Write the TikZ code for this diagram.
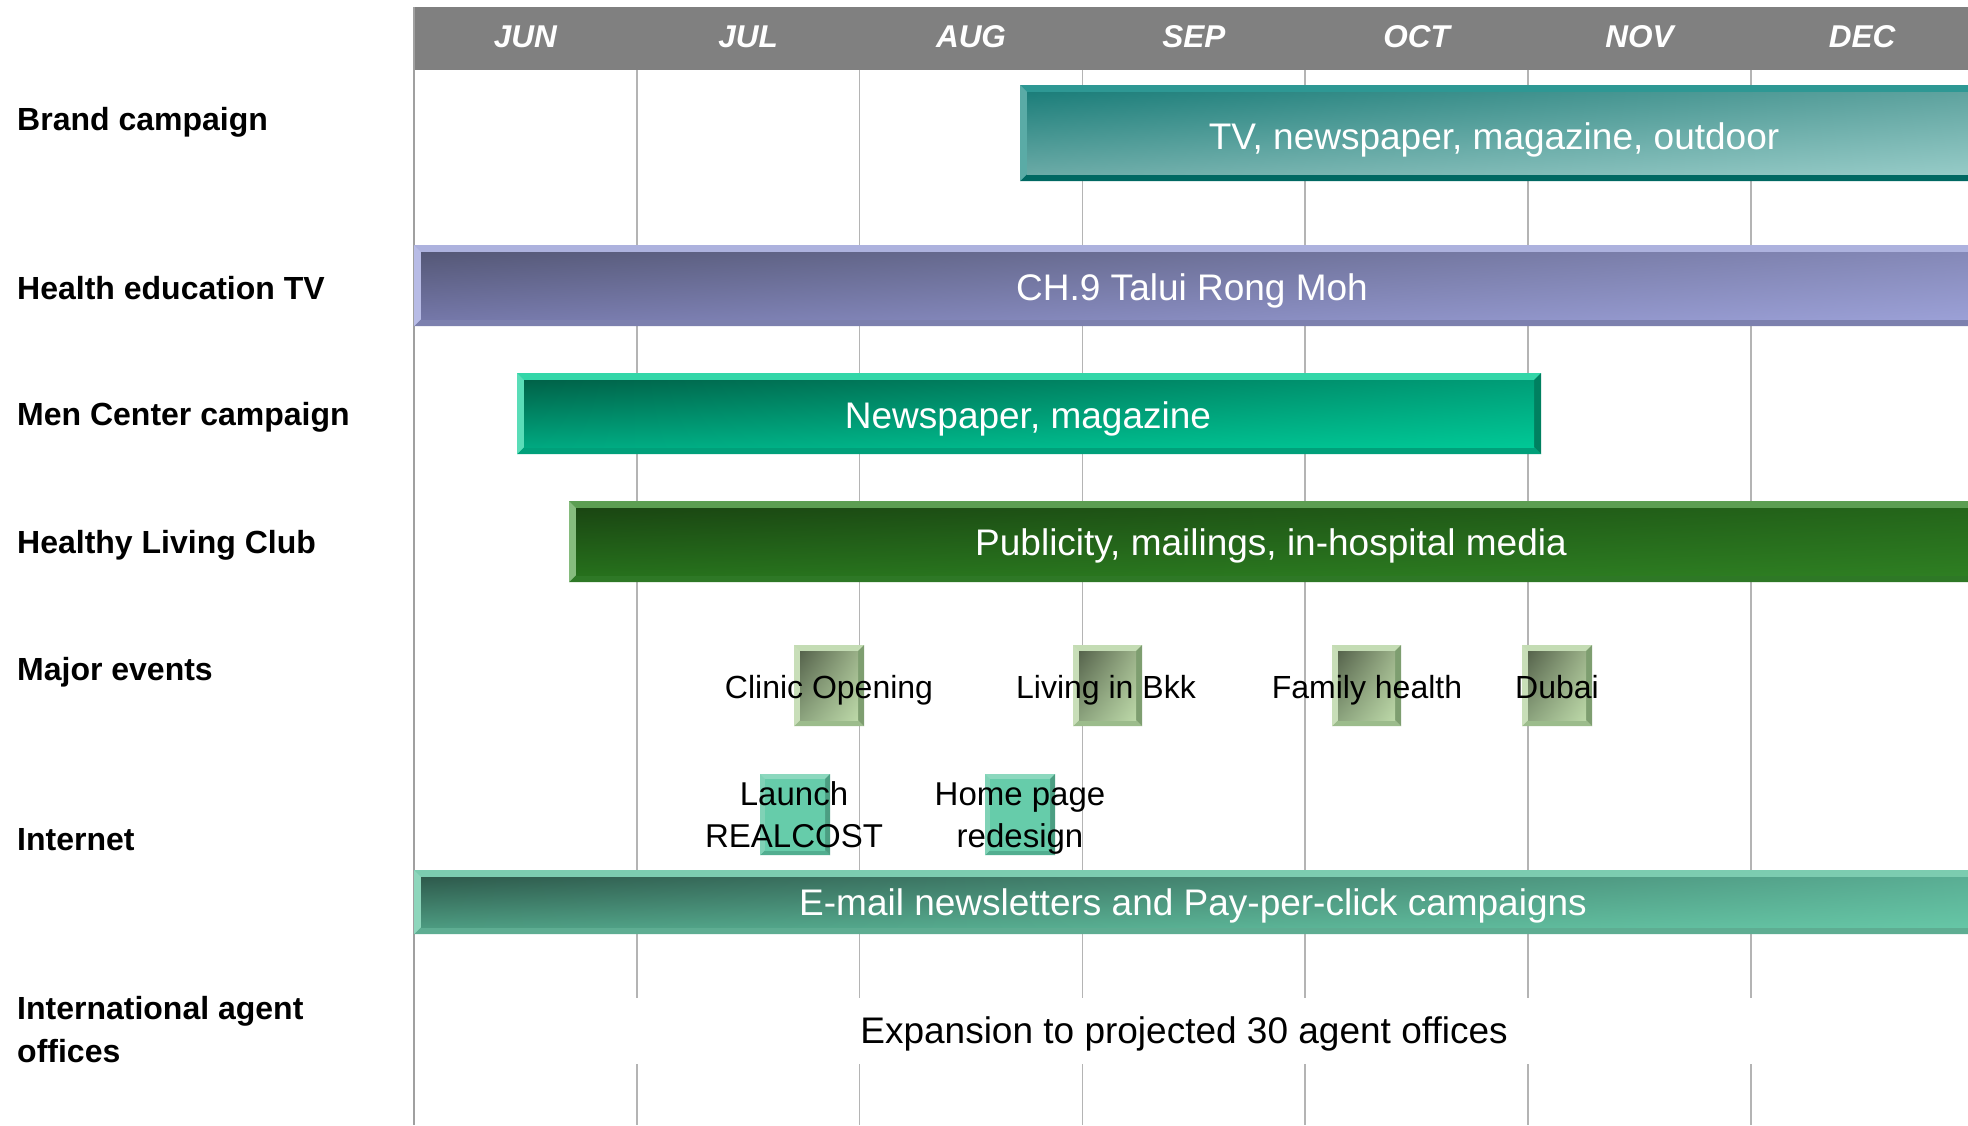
\documentclass[tikz,border=0pt]{standalone}
\usepackage{fontspec}
\setmainfont{Liberation Sans}
\usetikzlibrary{shadings}
\definecolor{hdrgray}{HTML}{808080}
\definecolor{gridgray}{HTML}{B4B4B4}
\definecolor{bordergray}{HTML}{A0A0A0}
% brand campaign bar
\definecolor{brT}{HTML}{2E9894}\definecolor{brL}{HTML}{5AABA6}\definecolor{brB}{HTML}{006862}\definecolor{brR}{HTML}{006862}
\definecolor{brUL}{HTML}{1C7E7A}\definecolor{brUR}{HTML}{5FA39F}\definecolor{brLL}{HTML}{6AAAA6}\definecolor{brLR}{HTML}{96CBC7}
% health TV bar
\definecolor{tvT}{HTML}{ADB2DE}\definecolor{tvL}{HTML}{B8BCE6}\definecolor{tvB}{HTML}{7C80AE}\definecolor{tvR}{HTML}{7C80AE}
\definecolor{tvUL}{HTML}{555877}\definecolor{tvUR}{HTML}{8589B8}\definecolor{tvLL}{HTML}{7477A8}\definecolor{tvLR}{HTML}{9BA0D6}
% men center bar
\definecolor{mcT}{HTML}{33D6A8}\definecolor{mcL}{HTML}{5ADDB8}\definecolor{mcB}{HTML}{00A07A}\definecolor{mcR}{HTML}{008060}
\definecolor{mcUL}{HTML}{006248}\definecolor{mcUR}{HTML}{009E78}\definecolor{mcLL}{HTML}{00A880}\definecolor{mcLR}{HTML}{00C896}
% healthy living bar
\definecolor{hlT}{HTML}{5C9E52}\definecolor{hlL}{HTML}{86BC7E}\definecolor{hlB}{HTML}{2E7826}\definecolor{hlR}{HTML}{2E7826}
\definecolor{hlUL}{HTML}{1A4612}\definecolor{hlUR}{HTML}{24661A}\definecolor{hlLL}{HTML}{26701C}\definecolor{hlLR}{HTML}{2E7E22}
% event boxes
\definecolor{evT}{HTML}{C4DCB4}\definecolor{evL}{HTML}{C8DEB8}\definecolor{evB}{HTML}{9CBC8C}\definecolor{evR}{HTML}{7E9E70}
\definecolor{evUL}{HTML}{56634C}\definecolor{evUR}{HTML}{9AB088}\definecolor{evLL}{HTML}{8CA47E}\definecolor{evLR}{HTML}{BCD8A8}
% internet boxes
\definecolor{inT}{HTML}{8CD8BE}\definecolor{inL}{HTML}{80D2B6}\definecolor{inB}{HTML}{52AE90}\definecolor{inR}{HTML}{4C9E82}
\definecolor{inUL}{HTML}{66CCAA}\definecolor{inUR}{HTML}{66CCAA}\definecolor{inLL}{HTML}{66CCAA}\definecolor{inLR}{HTML}{66CCAA}
% e-mail bar
\definecolor{emT}{HTML}{7CCCB0}\definecolor{emL}{HTML}{8ED6BC}\definecolor{emB}{HTML}{5EAD92}\definecolor{emR}{HTML}{5EAD92}
\definecolor{emUL}{HTML}{2E5A4C}\definecolor{emUR}{HTML}{5AAE94}\definecolor{emLL}{HTML}{4C9A80}\definecolor{emLR}{HTML}{66C6A6}

\newcommand{\bevbox}[6]{%
  \fill[#5T] (#1,#2) rectangle (#3,#4);
  \fill[#5B] (#1,#4) -- ({#1+#6},{#4-#6}) -- ({#3-#6},{#4-#6}) -- (#3,#4) -- cycle;
  \fill[#5L] (#1,#2) -- ({#1+#6},{#2+#6}) -- ({#1+#6},{#4-#6}) -- (#1,#4) -- cycle;
  \fill[#5R] (#3,#2) -- ({#3-#6},{#2+#6}) -- ({#3-#6},{#4-#6}) -- (#3,#4) -- cycle;
  \shade[upper left=#5UL, upper right=#5UR, lower left=#5LL, lower right=#5LR]
    ({#1+#6},{#2+#6}) rectangle ({#3-#6},{#4-#6});
}

\begin{document}
\begin{tikzpicture}[x=1pt,y=-1pt,
  lbl/.style={anchor=base west, inner sep=0pt, font=\fontsize{32}{43}\selectfont\bfseries},
  month/.style={anchor=base, inner sep=0pt, text=white, font=\fontsize{31.5}{37}\selectfont\bfseries\itshape},
  bartxt/.style={anchor=base, inner sep=0pt, text=white, font=\fontsize{37}{44}\selectfont},
  evtxt/.style={anchor=base, inner sep=0pt, text=black, font=\fontsize{32}{43}\selectfont},
  intxt/.style={anchor=base, inner sep=0pt, text=black, font=\fontsize{33}{43}\selectfont},
  gridline/.style={draw=gridgray, line width=1.5pt}]
\useasboundingbox (0,0) rectangle (1968,1125);
\fill[white] (0,0) rectangle (1968,1125);
\clip (0,0) rectangle (1968,1125);

% header and grid
\fill[hdrgray] (414,7) rectangle (1968,70);
\foreach \i in {1,...,6} \draw[gridline] ({414+222.8*\i},70) -- ({414+222.8*\i},1125);
\draw[draw=bordergray, line width=1.5pt] (414,7) -- (414,1125);
\fill[white] (420,998) rectangle (1968,1064);

\foreach \m [count=\i from 0] in {JUN,JUL,AUG,SEP,OCT,NOV,DEC}
  \node[month] (m\i) at ({414+111.4+222.8*\i},47) {\m};

% row labels
\node[lbl] (l1) at (17,130) {Brand campaign};
\node[lbl] (l2) at (17,299) {Health education TV};
\node[lbl] (l3) at (17,425) {Men Center campaign};
\node[lbl] (l4) at (17,553) {Healthy Living Club};
\node[lbl] (l5) at (17,680) {Major events};
\node[lbl] (l6) at (17,850) {Internet};
\node[lbl] (l7a) at (17,1019) {International agent};
\node[lbl] (l7b) at (17,1062) {offices};

% bars
\bevbox{1020}{85}{1976}{181}{br}{7}
\node[bartxt] (t1) at (1494,149) {TV, newspaper, magazine, outdoor};
\bevbox{414}{245}{1976}{326}{tv}{7}
\node[bartxt] (t2) at (1192,300) {CH.9 Talui Rong Moh};
\bevbox{517}{373}{1541}{454}{mc}{7}
\node[bartxt] (t3) at (1028,428) {Newspaper, magazine};
\bevbox{569}{501}{1976}{582}{hl}{7}
\node[bartxt] (t4) at (1271,555) {Publicity, mailings, in-hospital media};

% major events
\bevbox{794}{645}{864}{726}{ev}{6}
\bevbox{1073}{645}{1142}{726}{ev}{6}
\bevbox{1332}{645}{1401}{726}{ev}{6}
\bevbox{1522}{645}{1592}{726}{ev}{6}
\node[evtxt] (e1) at (829,698) {Clinic Opening};
\node[evtxt] (e2) at (1106,698) {Living in Bkk};
\node[evtxt] (e3) at (1367,698) {Family health};
\node[evtxt] (e4) at (1557,698) {Dubai};

% internet
\bevbox{760}{774}{830}{855}{in}{5}
\bevbox{985}{774}{1055}{855}{in}{5}
\node[intxt] (i1a) at (794,805.5) {Launch};
\node[intxt] (i1b) at (794,847) {REALCOST};
\node[intxt] (i2a) at (1020,805.5) {Home page};
\node[intxt] (i2b) at (1020,847) {redesign};

\bevbox{414}{870}{1976}{934}{em}{7}
\node[bartxt] (t5) at (1193,915) {E-mail newsletters and Pay-per-click campaigns};

\node[bartxt, text=black] (t6) at (1184,1043) {Expansion to projected 30 agent offices};
\end{tikzpicture}
\end{document}
